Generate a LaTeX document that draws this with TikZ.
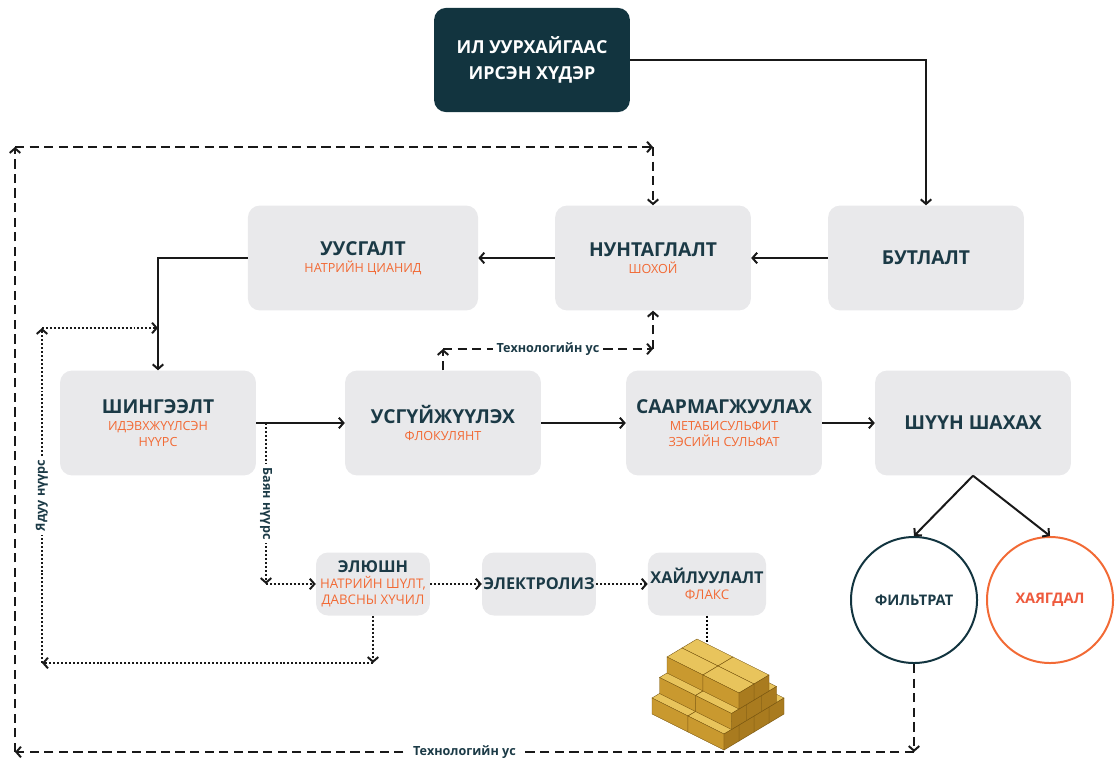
\documentclass[tikz,border=0pt]{standalone}
\usepackage{fontspec}
\setmainfont{Open Sans}
\usetikzlibrary{arrows.meta}
\definecolor{navy}{HTML}{12343F}
\definecolor{ink}{HTML}{1B3A46}
\definecolor{boxgray}{HTML}{E9E9EB}
\definecolor{orng}{HTML}{F26A35}
\definecolor{wastered}{HTML}{EE5A3D}
\definecolor{goldtop}{HTML}{E8C45C}
\definecolor{goldfr}{HTML}{C9992F}
\definecolor{goldsd}{HTML}{A97B1F}
\definecolor{golddk}{HTML}{7A5812}
\newcommand\ttl{\fontsize{14.5}{17}\selectfont\bfseries\color{ink}}
\newcommand\sttl{\fontsize{12.3}{15}\selectfont\bfseries\color{ink}}
\newcommand\sub{\fontsize{9.5}{12}\selectfont\color{orng}}
\newcommand\ssub{\fontsize{10}{12.5}\selectfont\color{orng}}
\newcommand\goldbar[2]{%
  \draw[fill=goldtop, draw=golddk, line width=0.3pt] (#1,#2) -- ++(36,18) -- ++(-15,9) -- ++(-36,-18) -- cycle;
  \draw[fill=goldfr, draw=golddk, line width=0.3pt] (#1,#2) ++(-15,9) -- ++(36,18) -- ++(0,16) -- ++(-36,-18) -- cycle;
  \draw[fill=goldsd, draw=golddk, line width=0.3pt] (#1,#2) ++(36,18) -- ++(-15,9) -- ++(0,16) -- ++(15,-9) -- cycle;}
\tikzset{
  box/.style={fill=boxgray, rounded corners=9pt, minimum width=5.19cm, minimum height=2.78cm, align=center, inner sep=1pt},
  smallbox/.style={box, minimum width=3.02cm, minimum height=1.67cm},
  flow/.style={line width=1.5pt, draw=black!90, -{Straight Barb[length=3.5pt,width=8pt]}},
  dashflow/.style={flow, dash pattern=on 7pt off 4pt},
  dotflow/.style={flow, dash pattern=on 1.5pt off 1.5pt},
  lbl/.style={fill=white, inner sep=3pt, font=\fontsize{9.5}{11}\selectfont\bfseries, text=ink}
}
\begin{document}
\begin{tikzpicture}[x=0.0265cm, y=-0.0265cm]
			%%%%% START %%%%%
			\useasboundingbox (0,0) rectangle (1117,762);
			
			\node[box, fill=navy, minimum height=2.76cm, text=white, font=\fontsize{13.5}{20}\selectfont\bfseries] (ore) at (532,60) {ИЛ УУРХАЙГААС\\ИРСЭН ХҮДЭР};
			
			\node[box] (crush) at (926,258) {\ttl БУТЛАЛТ};
			\node[box] (grind) at (653,258) {\ttl НУНТАГЛАЛТ\\[1pt]\sub ШОХОЙ};
			\node[box, minimum width=6.1cm] (leach) at (363,258) {\ttl УУСГАЛТ\\[1pt]\sub НАТРИЙН ЦИАНИД};
			
			\node[box] (adsorb) at (158,423) {\ttl ШИНГЭЭЛТ\\[1pt]\sub ИДЭВХЖҮҮЛСЭН\\\sub НҮҮРС};
			\node[box] (thicken) at (443,423) {\ttl УСГҮЙЖҮҮЛЭХ\\[1pt]\sub ФЛОКУЛЯНТ};
			\node[box] (neutral) at (724,423) {\ttl СААРМАГЖУУЛАХ\\[1pt]\sub МЕТАБИСУЛЬФИТ\\\sub ЗЭСИЙН СУЛЬФАТ};
			\node[box] (filter) at (973,423) {\ttl ШҮҮН ШАХАХ};
			
			\node[smallbox] (elute) at (373,584) {\sttl ЭЛЮШН\\\ssub НАТРИЙН ШҮЛТ,\\\ssub ДАВСНЫ ХҮЧИЛ};
			\node[smallbox] (electro) at (539,584) {\sttl ЭЛЕКТРОЛИЗ};
			\node[smallbox, minimum width=3.13cm] (smelt) at (707,584) {\sttl ХАЙЛУУЛАЛТ\\\ssub ФЛАКС};
			
			\node[circle, draw=navy, line width=1.5pt, minimum size=3.34cm, font=\fontsize{11}{13}\selectfont\bfseries, text=ink] (filt) at (914,600) {ФИЛЬТРАТ};
			\node[circle, draw=orng, line width=1.5pt, minimum size=3.34cm, font=\fontsize{11}{13}\selectfont\bfseries, text=wastered] (tail) at (1050,600) {ХАЯГДАЛ};
			
			% main line
			\draw[flow] (ore.east) -| (crush.north);
			\draw[flow] (crush.west) -- (grind.east);
			\draw[flow] (grind.west) -- (leach.east);
			\draw[flow] (leach.west) -| (adsorb.north);
			\draw[flow] (adsorb.east) -- (thicken.west);
			\draw[flow] (thicken.east) -- (neutral.west);
			\draw[flow] (neutral.east) -- (filter.west);
			\draw[flow] (filter.south) -- (filt.north);
			\draw[flow] (filter.south) -- (tail.north);
			
			% water back to grinding
			\coordinate (tw1) at (thicken.north |- 0,349);
			\coordinate (tw2) at (grind.south |- 0,349);
			\draw[dashflow] (thicken.north) -- (tw1);
			\draw[dashflow] (tw1) -- node[lbl] {Технологийн ус} (tw2);
			\draw[dashflow] (tw2) -- (grind.south);
			
			\coordinate (bw1) at (filt.south |- 0,752);
			\coordinate (bw2) at (15,752);
			\coordinate (bw3) at (15,147);
			\coordinate (bw4) at (grind.north |- 0,147);
			\draw[dashflow] (filt.south) -- (bw1);
			\draw[dashflow] (bw1) -- node[lbl] {Технологийн ус} (bw2);
			\draw[dashflow] (bw2) -- (bw3);
			\draw[dashflow] (bw3) -- (bw4);
			\draw[dashflow] (bw4) -- (grind.north);
			
			% rich carbon
			\coordinate (rc0) at (266,423);
			\coordinate (rc1) at (rc0 |- elute.west);
			\draw[dotflow] (rc0) -- node[lbl, rotate=-90] {Баян нүүрс} (rc1);
			\draw[dotflow] (rc1) -- (elute.west);
			\draw[dotflow] (elute.east) -- (electro.west);
			\draw[dotflow] (electro.east) -- (smelt.west);
			
			% poor carbon
			\coordinate (pc1) at (elute.south |- 0,663);
			\coordinate (pc2) at (42,663);
			\coordinate (pc3) at (42,328);
			\coordinate (pc4) at (adsorb.north |- 0,328);
			\draw[dotflow] (elute.south) -- (pc1);
			\draw[dotflow] (pc1) -- (pc2);
			\draw[dotflow] (pc2) -- node[lbl, rotate=90] {Ядуу нүүрс} (pc3);
			\draw[dotflow] (pc3) -- (pc4);
			
			% gold
			\coordinate (gold) at (smelt.south |- 0,648);
			\draw[line width=1.5pt, dash pattern=on 1.5pt off 1.5pt] (smelt.south) -- (gold);
			\foreach \k/\nj in {0/3,1/2,2/1}
			  \foreach \i in {0,1}
			    \foreach \j in {0,...,\nj} {
			      \pgfmathsetmacro\gx{712+36*\i-15*(\j+\k/2)}
			      \pgfmathsetmacro\gy{662+18*\i+9*(\j+\k/2)-16*\k}
			      \goldbar{\gx}{\gy}
			    }
			
			%%%%% END %%%%%
\end{tikzpicture}
\end{document}
